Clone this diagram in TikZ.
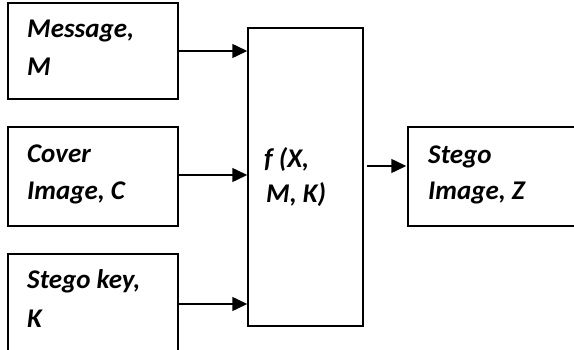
\documentclass[tikz,border=0pt]{standalone}
\usepackage{fontspec}
\setmainfont{Carlito}
\usetikzlibrary{arrows.meta,calc}
\tikzset{
  box/.style={draw=black, line width=1.5pt, rectangle, inner sep=0pt},
  lbl/.style={anchor=base west, inner sep=0pt, font=\fontsize{27}{32}\selectfont\bfseries\itshape},
  arr/.style={line width=1.5pt, -{Triangle[length=15pt,width=14pt]}},
}
\begin{document}
\begin{tikzpicture}[x=1pt,y=-1pt]
\useasboundingbox (0,0) rectangle (574,350);
\clip (0,0) rectangle (574,350);
% boxes
\node[box, minimum width=170pt, minimum height=96pt] (msg) at (93,51) {};
\node[box, minimum width=170pt, minimum height=99pt] (cov) at (93,176.5) {};
\node[box, minimum width=170pt, minimum height=98pt] (key) at (93,303) {};
\node[box, minimum width=115pt, minimum height=298pt] (f) at (305.5,177) {};
\node[box, minimum width=180pt, minimum height=99pt] (out) at (498,176.5) {};
% texts
\node[lbl] (t1) at (27,38) {Message,};
\node[lbl] (t2) at (27,76) {M};
\node[lbl] (t3) at (27,163) {Cover};
\node[lbl] (t4) at (27,200) {Image, C};
\node[lbl] (t5) at (27,289) {Stego key,};
\node[lbl] (t6) at (27,327) {K};
\node[lbl] (t7) at (264,168) {f (X,};
\node[lbl] (t8) at (266,203) {M, K)};
\node[lbl] (t9) at (428,164) {Stego};
\node[lbl] (t10) at (428,200) {Image, Z};
% connectors
\draw[arr] (msg.east) -- (msg.east -| f.west);
\draw[arr] ([yshift=1.5pt]cov.east) -- ([yshift=1.5pt]cov.east -| f.west);
\draw[arr] ([yshift=-1pt]key.east) -- ([yshift=-1pt]key.east -| f.west);
\draw[arr, shorten <=3pt, shorten >=1pt] ([yshift=11pt]f.east) -- ([yshift=11pt]f.east -| out.west);
\end{tikzpicture}
\end{document}
